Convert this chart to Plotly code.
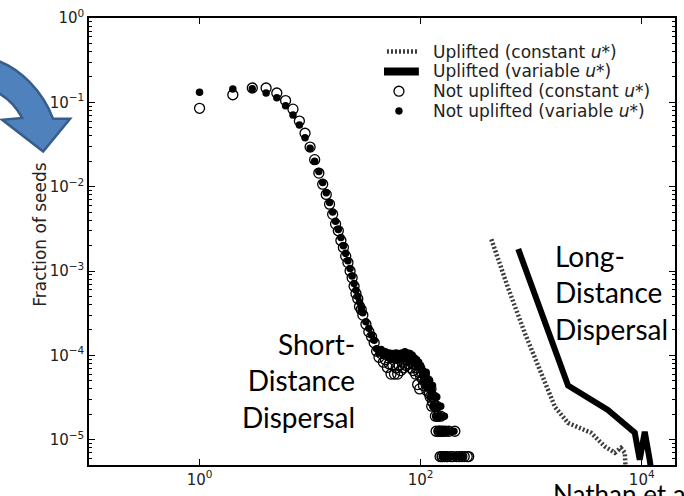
import plotly.graph_objects as go

# ---------------- data ----------------
# Not uplifted, constant u* (open circles)
nc_x = [1, 2, 3, 4, 5, 6, 7, 8, 9, 10, 11, 12, 13, 14, 15, 16, 17, 18, 19, 20,
        21, 22, 23, 24, 25, 26, 27, 28, 29, 30, 32, 34, 36, 38,
        40, 42, 44, 46, 48, 50, 52, 54, 56, 58, 60, 62, 64, 66, 68, 70,
        72, 74, 76, 78, 80, 82, 84, 86, 88, 90, 92, 94, 96, 98, 100,
        102, 104, 106, 108, 110, 112, 114, 116, 118, 120, 122, 124, 126, 128, 130,
        132, 134, 136, 138, 140, 142, 144, 146, 148, 150, 152, 154, 156, 158,
        160, 164, 168, 172, 176, 180, 188, 196, 204, 212, 224, 236, 248, 264, 272]
nc_y = [0.085, 0.123, 0.148, 0.148, 0.129, 0.105, 0.083, 0.060, 0.043, 0.0295,
        0.0209, 0.0145, 0.0107, 0.0081, 0.0062, 0.0047, 0.0036, 0.0030, 0.0023, 0.0019,
        0.0015, 0.00126, 0.0010, 0.00083, 0.00066, 0.00054, 0.00047, 0.00038, 0.00035, 0.00030,
        2.34e-4, 1.9e-4, 1.66e-4, 1.41e-4,
        1.12e-4, 9.5e-5, 1.05e-4, 8.3e-5, 8.9e-5, 7.2e-5, 7.9e-5, 6.0e-5, 7.6e-5, 6.0e-5,
        7.1e-5, 6.0e-5, 7.6e-5, 6.6e-5, 8.3e-5, 7.1e-5, 8.9e-5, 7.6e-5, 9.5e-5, 7.9e-5,
        8.9e-5, 7.1e-5, 8.3e-5, 6.6e-5, 7.9e-5, 6.0e-5, 7.1e-5, 4.5e-5, 6.3e-5, 4.0e-5, 5.6e-5,
        6.3e-5, 5.2e-5, 4.4e-5, 6.0e-5, 5.0e-5, 4.5e-5, 3.8e-5, 5.0e-5, 4.4e-5, 3.5e-5,
        3.2e-5, 4.0e-5, 2.5e-5, 2.8e-5, 3.2e-5, 3.2e-5, 2.5e-5, 1.9e-5, 1.26e-5, 2.5e-5,
        1.9e-5, 1.9e-5, 1.26e-5, 1.26e-5, 6.3e-6, 1.9e-5, 1.26e-5, 6.3e-6, 6.3e-6,
        1.26e-5, 6.3e-6, 1.26e-5, 6.3e-6, 6.3e-6, 1.26e-5,
        6.3e-6, 6.3e-6, 1.26e-5, 6.3e-6, 6.3e-6, 6.3e-6, 6.3e-6, 6.3e-6, 6.3e-6]

# Not uplifted, variable u* (filled dots)
nv_x = [1, 2, 3, 4, 5, 6, 7, 8, 9, 10, 11, 12, 13, 14, 15, 16, 17, 18, 19, 20,
        21, 22, 23, 24, 25, 26, 27, 28, 29, 30, 32, 34, 36, 38,
        40, 42, 44, 46, 48, 50, 52, 54, 56, 58, 60, 62, 64, 66, 68, 70,
        72, 74, 76, 78, 80, 82, 84, 86, 88, 90, 92, 94, 96, 98, 100,
        102, 104, 106, 108, 110, 112, 114, 116, 118, 120, 122, 124, 126, 128, 130,
        132, 134, 136, 138, 140, 142, 144, 146, 148, 150, 152, 154, 156, 158,
        160, 164, 168, 172, 176, 184, 192, 200, 208, 216, 228, 240]
nv_y = [0.132, 0.144, 0.145, 0.129, 0.113, 0.091, 0.071, 0.054, 0.038, 0.0285,
        0.020, 0.0151, 0.0112, 0.0085, 0.0065, 0.0050, 0.0039, 0.0031, 0.0025, 0.0020,
        0.00162, 0.00132, 0.00107, 0.00087, 0.00071, 0.00059, 0.0005, 0.00043, 0.00036, 0.00032,
        2.5e-4, 2.1e-4, 1.74e-4, 1.51e-4,
        1.2e-4, 1.07e-4, 1.17e-4, 1.0e-4, 1.1e-4, 9.5e-5, 1.07e-4, 8.9e-5, 1.05e-4, 9.3e-5,
        1.07e-4, 8.7e-5, 1.05e-4, 9.1e-5, 1.07e-4, 9.5e-5, 1.1e-4, 9.3e-5, 1.07e-4, 9.5e-5,
        1.05e-4, 8.9e-5, 1.0e-4, 8.3e-5, 9.3e-5, 7.9e-5, 8.9e-5, 7.4e-5, 8.3e-5, 7.1e-5, 7.6e-5,
        7.1e-5, 6.6e-5, 5.0e-5, 5.6e-5, 5.6e-5, 6.3e-5, 5.0e-5, 4.4e-5, 4.4e-5, 5.0e-5,
        3.2e-5, 3.8e-5, 3.8e-5, 4.4e-5, 2.5e-5, 3.2e-5, 3.2e-5, 2.5e-5, 1.9e-5, 3.2e-5,
        2.5e-5, 2.5e-5, 1.26e-5, 1.9e-5, 1.9e-5, 2.5e-5, 1.26e-5, 1.9e-5, 6.3e-6,
        1.26e-5, 1.9e-5, 1.26e-5, 6.3e-6, 1.26e-5, 1.26e-5,
        6.3e-6, 1.26e-5, 6.3e-6, 6.3e-6, 6.3e-6, 6.3e-6]

# Uplifted, constant u* (dotted line)
uc_x = [436, 621, 883, 1230, 1645, 2155, 2820, 3470, 4645, 5715, 6475, 7030, 7180]
uc_y = [2.38e-3, 6.2e-4, 1.79e-4, 6.1e-5, 2.43e-5, 1.58e-5, 1.38e-5, 1.21e-5,
        8.3e-6, 7.0e-6, 8.0e-6, 7.0e-6, 4.0e-6]

# Uplifted, variable u* (thick solid line)
uv_x = [764, 2155, 4940, 7480, 8650, 9590, 10650, 11800, 12300]
uv_y = [1.82e-3, 4.4e-5, 2.25e-5, 1.38e-5, 1.21e-5, 5.8e-6, 1.24e-5, 5.8e-6, 4.0e-6]

series_names = ["Uplifted (constant <i>u</i>*)", "Uplifted (variable <i>u</i>*)",
                "Not uplifted (constant <i>u</i>*)", "Not uplifted (variable <i>u</i>*)"]

x_tickvals = [1, 100, 10000]
x_ticktext = ["10<sup>0</sup>", "10<sup>2</sup>", "10<sup>4</sup>"]
y_tickvals = [1e-5, 1e-4, 1e-3, 1e-2, 1e-1, 1]
y_ticktext = ["10<sup>\u22125</sup>", "10<sup>\u22124</sup>", "10<sup>\u22123</sup>",
              "10<sup>\u22122</sup>", "10<sup>\u22121</sup>", "10<sup>0</sup>"]
y_minor = [m * 10.0 ** e for e in range(-6, 0) for m in range(2, 10)]

# ---------------- geometry helpers (page pixels -> paper) ----------------
W, H = 684, 496
ML, MR, MT, MB = 89, 7, 13, 31
PW, PH = W - ML - MR, H - MT - MB


def px(x):
    return (x - ML) / PW


def py(y):
    return (H - MB - y) / PH


FONT = "DejaVu Sans, Liberation Sans, sans-serif"
LINE_C = "#3c3c3c"

fig = go.Figure()
fig.add_trace(go.Scatter(x=uc_x, y=uc_y, mode="lines", name=series_names[0],
                         line=dict(color=LINE_C, width=4.5, dash="2px,2px")))
fig.add_trace(go.Scatter(x=uv_x, y=uv_y, mode="lines", name=series_names[1],
                         line=dict(color="black", width=6)))
fig.add_trace(go.Scatter(x=nc_x, y=nc_y, mode="markers", name=series_names[2],
                         marker=dict(symbol="circle-open", size=10, color="black",
                                     line=dict(width=1.3, color="black"))))
fig.add_trace(go.Scatter(x=nv_x, y=nv_y, mode="markers", name=series_names[3],
                         marker=dict(symbol="circle", size=7.5, color="black")))

axis_common = dict(type="log", showgrid=False, zeroline=False, showline=True,
                   linecolor="black", linewidth=1.5, mirror="ticks", ticks="inside",
                   tickcolor="black", tickwidth=1, ticklen=6,
                   tickfont=dict(family=FONT, size=15, color="#222"))

fig.update_xaxes(**axis_common, range=[-1, 4.301], tickmode="array",
                 tickvals=x_tickvals, ticktext=x_ticktext)
fig.update_yaxes(**axis_common, range=[-5.3, 0], tickmode="array",
                 tickvals=y_tickvals, ticktext=y_ticktext,
                 minor=dict(tickmode="array", tickvals=y_minor, ticks="inside",
                            ticklen=3, tickcolor="black", showgrid=False))

# curved blue arrow (decoration)
pts = [(-6, 55), (20, 63), (43, 88), (53, 115)]
path = "M {} {} C {} {} {} {} {} {}".format(px(pts[0][0]), py(pts[0][1]), px(pts[1][0]), py(pts[1][1]),
                                            px(pts[2][0]), py(pts[2][1]), px(pts[3][0]), py(pts[3][1]))
for (a, b) in [(70, 115), (43, 148), (2, 116), (22, 114)]:
    path += " L {} {}".format(px(a), py(b))
path += " C {} {} {} {} {} {} Z".format(px(16), py(103), px(8), py(93), px(-6), py(87))

shapes = [dict(type="path", path=path, xref="paper", yref="paper",
               fillcolor="#4F81BD", line=dict(color="#385D8A", width=2.5), layer="below")]

# hand-built legend (samples + labels) to match the reference spacing
rows = [47, 67, 87, 107]
shapes += [
    dict(type="line", xref="paper", yref="paper", x0=px(388), x1=px(420), y0=py(rows[0]), y1=py(rows[0]),
         line=dict(color=LINE_C, width=4.5, dash="2px,2px")),
    dict(type="line", xref="paper", yref="paper", x0=px(385), x1=px(420), y0=py(rows[1]), y1=py(rows[1]),
         line=dict(color="black", width=8)),
    dict(type="circle", xref="paper", yref="paper", x0=px(395), x1=px(405), y0=py(rows[2] - 5), y1=py(rows[2] + 5),
         line=dict(color="black", width=1.3)),
    dict(type="circle", xref="paper", yref="paper", x0=px(396.5), x1=px(403.5), y0=py(rows[3] - 3.5),
         y1=py(rows[3] + 3.5), line=dict(color="black", width=0.5), fillcolor="black"),
]

annotations = [dict(text=name, x=px(432), y=py(r), xref="paper", yref="paper", xanchor="left",
                    yanchor="middle", showarrow=False, font=dict(family=FONT, size=17, color="#222"))
               for name, r in zip(series_names, rows)]
annotations += [
    dict(text="Fraction of seeds", x=px(27), y=py(232), xref="paper", yref="paper",
         textangle=-90, showarrow=False, font=dict(family=FONT, size=17, color="#222")),
    dict(text="Short-<br>Distance<br>Dispersal", x=px(358), y=py(380), xref="paper", yref="paper",
         xanchor="right", yanchor="middle", align="right", showarrow=False,
         font=dict(family="Lato", size=28, color="black")),
    dict(text="Long-<br>Distance<br>Dispersal", x=px(555), y=py(291), xref="paper", yref="paper",
         xanchor="left", yanchor="middle", align="left", showarrow=False,
         font=dict(family="Lato", size=28, color="black")),
    dict(text="Nathan et al.", x=px(553), y=py(476), xref="paper", yref="paper",
         xanchor="left", yanchor="top", align="left", showarrow=False,
         font=dict(family="Lato", size=26, color="black")),
]

fig.update_layout(
    width=W, height=H,
    margin=dict(l=ML, r=MR, t=MT, b=MB),
    paper_bgcolor="white", plot_bgcolor="white",
    showlegend=False,
    shapes=shapes,
    annotations=annotations,
)

fig.write_html("out.html", config={"displayModeBar": False},
               post_script="document.body.style.margin='0';")
